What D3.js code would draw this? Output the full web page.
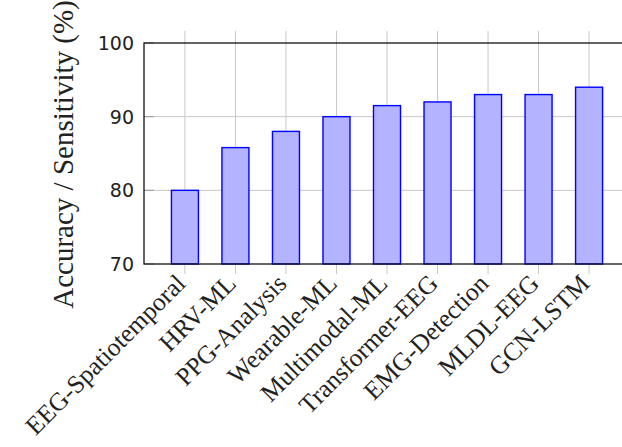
<html>
<head>
  <style>
    body { margin: 0; background: #fff; }
    .grid line { stroke: #c8c8c8; stroke-width: 1 }
    .bars rect { fill: #b3b3ff; stroke: #0000ff; stroke-width: 1.4 }
    .ylab { font-family: "DejaVu Sans", sans-serif; font-size: 19px; fill: #222 }
    .xlab { font-family: "Liberation Serif", serif; font-size: 25.5px; fill: #222 }
    .title { font-family: "Liberation Serif", serif; font-size: 29px; fill: #222 }
  </style>
</head>
<body>
  <svg id="container" width="622" height="447">
    <g id="body" transform="translate(144,43)"></g>
  </svg>
<script src="https://cdn.jsdelivr.net/npm/d3@7"></script>
<script>
  let methods = ["EEG-Spatiotemporal", "HRV-ML", "PPG-Analysis", "Wearable-ML", "Multimodal-ML",
                 "Transformer-EEG", "EMG-Detection", "MLDL-EEG", "GCN-LSTM"]
  let scores = [80, 85.8, 88, 90, 91.5, 92, 93, 93, 94]
  let yTicks = [70, 80, 90, 100]

  let bodyWidth = 486
  let bodyHeight = 221
  let barWidth = 27

  let body = d3.select("#body")

  let x = d3.scalePoint()
            .domain(methods)
            .range([0, bodyWidth])
            .padding(0.81)

  let y = d3.scaleLinear()
            .domain([70, 100])
            .range([bodyHeight, 0])

  // grid lines (vertical ones stick out past the frame like tick marks)
  let grid = body.append("g").attr("class", "grid")
  grid.selectAll(".vg")
      .data(methods)
      .enter()
      .append("line")
        .attr("x1", d => x(d))
        .attr("x2", d => x(d))
        .attr("y1", -12)
        .attr("y2", bodyHeight + 10)
  grid.selectAll(".hg")
      .data(yTicks.slice(1, 3))
      .enter()
      .append("line")
        .attr("x1", 0)
        .attr("x2", bodyWidth)
        .attr("y1", d => y(d))
        .attr("y2", d => y(d))
  // small inner tick marks on the left
  grid.selectAll(".yt")
      .data(yTicks)
      .enter()
      .append("line")
        .attr("x1", 0)
        .attr("x2", 10)
        .attr("y1", d => y(d))
        .attr("y2", d => y(d))
        .style("stroke", "#999")

  body.append("g")
      .attr("class", "bars")
      .selectAll("rect")
      .data(scores)
      .enter()
      .append("rect")
        .attr("x", (d, i) => x(methods[i]) - barWidth / 2)
        .attr("y", d => y(d))
        .attr("width", barWidth)
        .attr("height", d => bodyHeight - y(d))

  // frame
  body.append("rect")
      .attr("width", bodyWidth)
      .attr("height", bodyHeight)
      .attr("fill", "none")
      .attr("stroke", "#111")
      .attr("stroke-width", 1.3)

  // y axis labels
  body.append("g")
      .selectAll("text")
      .data(yTicks)
      .enter()
      .append("text")
        .attr("class", "ylab")
        .attr("x", -10)
        .attr("y", d => y(d))
        .attr("dy", "0.36em")
        .attr("text-anchor", "end")
        .text(d => d)

  // x axis labels, rotated
  body.append("g")
      .selectAll("text")
      .data(methods)
      .enter()
      .append("text")
        .attr("class", "xlab")
        .attr("transform", d => "translate(" + (x(d) - 7) + "," + (bodyHeight + 12) + ") rotate(-45)")
        .attr("dy", "0.5em")
        .attr("text-anchor", "end")
        .text(d => d)

  body.append("text")
      .attr("class", "title")
      .attr("transform", "translate(-71," + (bodyHeight / 2 + 1) + ") rotate(-90)")
      .attr("text-anchor", "middle")
      .text("Accuracy / Sensitivity (%)")
</script>
</body>
</html>
